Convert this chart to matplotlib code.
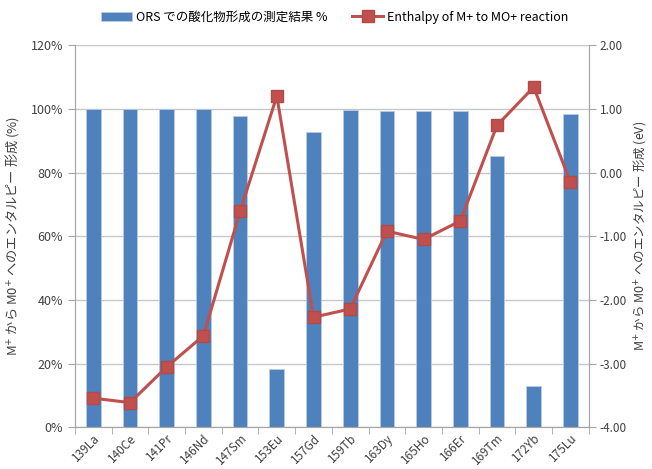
import matplotlib
matplotlib.use("Agg")
import matplotlib.pyplot as plt
import numpy as np
from matplotlib.ticker import FuncFormatter, FixedLocator

plt.rcParams['font.family'] = ['Noto Sans CJK JP', 'DejaVu Sans']

categories = ["139La", "140Ce", "141Pr", "146Nd", "147Sm", "153Eu", "157Gd",
              "159Tb", "163Dy", "165Ho", "166Er", "169Tm", "172Yb", "175Lu"]
oxide_pct = [99.8, 100.0, 100.0, 99.8, 97.6, 18.2, 92.7,
             99.5, 99.4, 99.4, 99.4, 85.1, 13.1, 98.3]
enthalpy_ev = [-3.54, -3.61, -3.05, -2.56, -0.61, 1.20, -2.27,
               -2.14, -0.92, -1.05, -0.76, 0.74, 1.34, -0.15]

bar_label = "ORS での酸化物形成の測定結果 %"
line_label = "Enthalpy of M+ to MO+ reaction"
left_ylabel = "M$^{+}$ から M0$^{+}$ へのエンタルピー 形成 (%)"
right_ylabel = "M$^{+}$ から M0$^{+}$ へのエンタルピー 形成 (eV)"

bar_color = "#4f81bd"
line_color = "#c0504d"
tick_color = "#404040"
axis_color = "#a6a6a6"
grid_color = "#c8c8c8"

fig = plt.figure(figsize=(6.52, 4.69), dpi=100)
ax = fig.add_axes([0.115, 0.0885, 0.788, 0.8155])
x = np.arange(len(categories))

bars = ax.bar(x, oxide_pct, width=0.4, color=bar_color, edgecolor="#b8cce4",
              linewidth=0.6, zorder=2, label=bar_label)
ax.set_xlim(-0.5, len(categories) - 0.5)
ax.set_ylim(0, 120)
ax.yaxis.set_major_locator(FixedLocator(np.arange(0, 121, 20)))
ax.yaxis.set_major_formatter(FuncFormatter(lambda v, p: f"{v:.0f}%"))
ax.grid(axis='y', color=grid_color, linewidth=1.0, zorder=0)
ax.set_axisbelow(True)

ax.set_xticks(x)
ax.set_xticklabels(categories, rotation=45, ha='right', rotation_mode='anchor',
                   fontsize=8.5, color=tick_color)
ax.tick_params(axis='x', length=0, pad=3)
ax.set_xticks(np.arange(-0.5, len(categories) + 0.5, 1), minor=True)
ax.tick_params(axis='x', which='minor', length=5, color=axis_color)
ax.tick_params(axis='y', labelsize=9, labelcolor=tick_color, color=axis_color, length=5)

for side in ['left', 'right', 'bottom']:
    ax.spines[side].set_color(axis_color)
ax.spines['top'].set_visible(False)

ax.set_ylabel(left_ylabel, fontsize=9.5, color=tick_color)
ax.yaxis.set_label_coords(-0.105, 0.5)

ax2 = ax.twinx()
line, = ax2.plot(x, enthalpy_ev, color=line_color, linewidth=2.2, marker='s',
                 markersize=8, markerfacecolor=line_color, markeredgecolor="#b24a47",
                 zorder=3, label=line_label)
ax2.set_ylim(-4, 2)
ax2.yaxis.set_major_locator(FixedLocator(np.arange(-4, 2.01, 1)))
ax2.yaxis.set_major_formatter(FuncFormatter(lambda v, p: f"{v:.2f}"))
ax2.tick_params(axis='y', labelsize=8.5, labelcolor=tick_color, color=axis_color,
                length=5, pad=3)
for side in ['left', 'right', 'bottom']:
    ax2.spines[side].set_color(axis_color)
ax2.spines['top'].set_visible(False)
ax2.set_ylabel(right_ylabel, fontsize=9, color=tick_color, rotation=90)
ax2.yaxis.set_label_coords(1.083, 0.5)

fig.legend([bars, line], [bar_label, line_label], loc='center',
           bbox_to_anchor=(0.513, 0.963), ncol=2, frameon=False, fontsize=9,
           handlelength=2.5, columnspacing=2.0, handletextpad=0.3)

fig.savefig("out.png", dpi=100)
